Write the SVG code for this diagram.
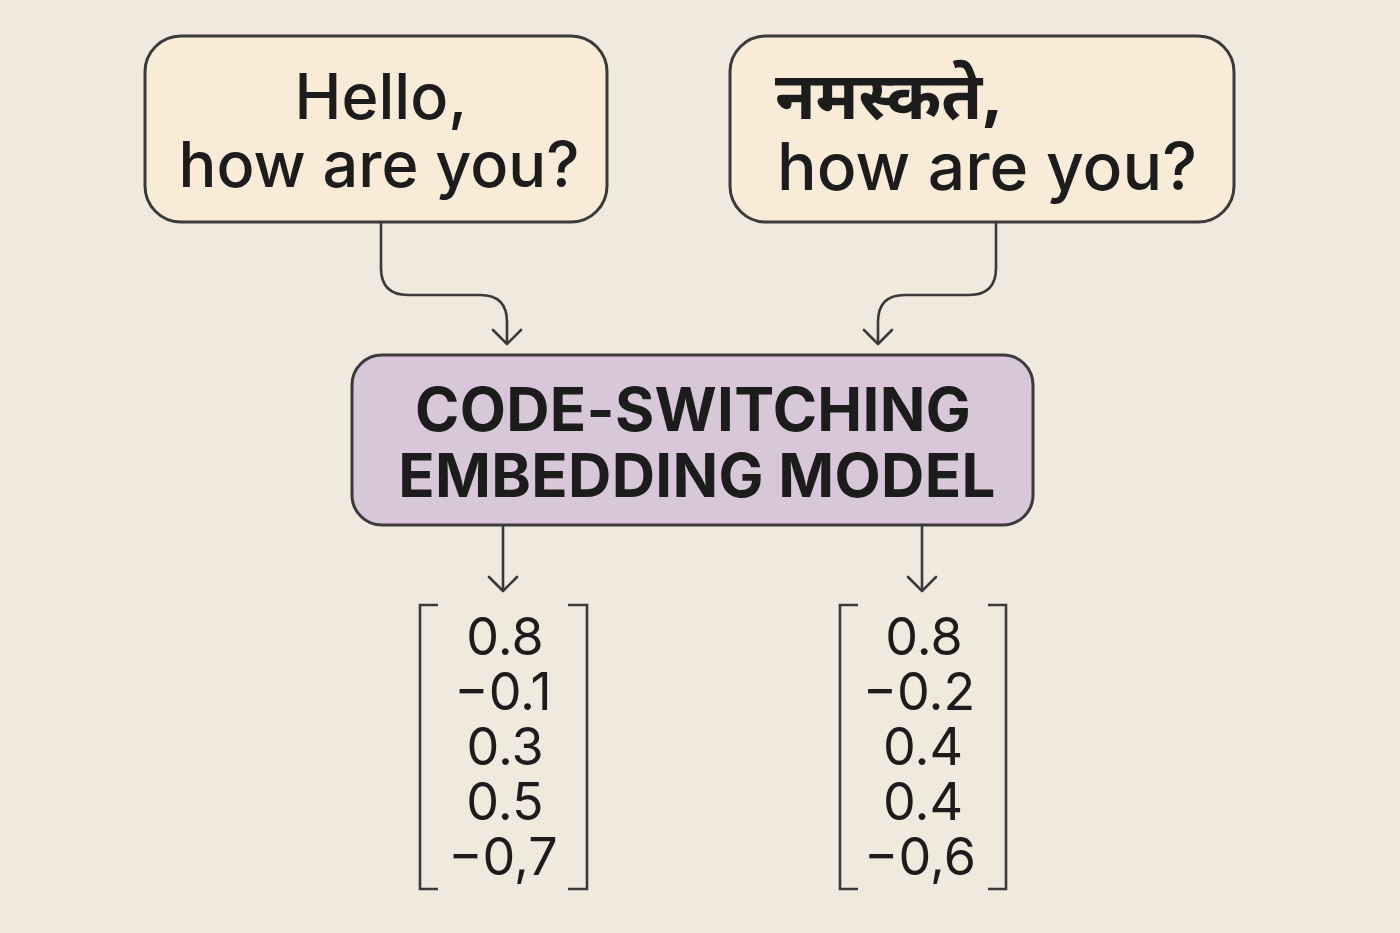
<svg xmlns="http://www.w3.org/2000/svg" width="1400" height="933" viewBox="0 0 1400 933">
  <defs>
    <marker id="arr" viewBox="0 0 20 32" refX="18" refY="16" markerWidth="20" markerHeight="32" markerUnits="userSpaceOnUse" orient="auto">
      <path d="M4,2 L18,16 L4,30" fill="none" stroke="#3a3a3a" stroke-width="2.6" stroke-linecap="round" stroke-linejoin="round"/>
    </marker>
    <style>
      .bg { fill: #f0e9de; }
      .input { fill: #f8ebd8; stroke: #3a3a3a; stroke-width: 3; }
      .model { fill: #d8c7d8; stroke: #3a3a3a; stroke-width: 3; }
      .conn { fill: none; stroke: #3a3a3a; stroke-width: 2.6; }
      .brk { fill: none; stroke: #3a3a3a; stroke-width: 2.6; }
      .t { font-family: Inter, "Liberation Sans", sans-serif; fill: #1c1c1c; }
      .big { font-size: 63px; font-weight: 500; }
      .big2 { font-size: 66px; font-weight: 500; }
      .dev { font-family: "Noto Sans Devanagari", "Noto Sans", "Liberation Sans", sans-serif; font-size: 66px; font-weight: 700; fill: #1c1c1c; }
      .title { font-size: 60px; font-weight: 700; letter-spacing: 0.3px; }
      .num { font-size: 52px; font-weight: 400; }
    </style>
  </defs>
  <rect class="bg" x="0" y="0" width="1400" height="933"/>

  <g id="connectors">
    <path class="conn" d="M381,223 L381,268 Q381,295 408,295 L480,295 Q507,295 507,322 L507,344" marker-end="url(#arr)"/>
    <path class="conn" d="M996,223 L996,268 Q996,295 969,295 L905,295 Q878,295 878,322 L878,344" marker-end="url(#arr)"/>
    <path class="conn" d="M503,526 L503,591" marker-end="url(#arr)"/>
    <path class="conn" d="M922,526 L922,591" marker-end="url(#arr)"/>
  </g>

  <g id="input-english">
    <rect class="input" x="145" y="36" width="462" height="186" rx="36"/>
    <text class="t big" x="381" y="119" text-anchor="middle">Hello,</text>
    <text class="t big" x="379" y="187" text-anchor="middle">how are you?</text>
  </g>

  <g id="input-hindi">
    <rect class="input" x="730" y="36" width="504" height="186" rx="36"/>
    <text class="dev" x="775" y="119">नमस्कते,</text>
    <text class="t big2" x="987" y="190" text-anchor="middle">how are you?</text>
  </g>

  <g id="model">
    <rect class="model" x="352" y="355" width="681" height="170" rx="30"/>
    <text class="t title" x="693" y="431" text-anchor="middle">CODE-SWITCHING</text>
    <text class="t title" x="697" y="497" text-anchor="middle">EMBEDDING MODEL</text>
  </g>

  <g id="vector-english">
    <path class="brk" d="M438,605 L420,605 L420,889 L438,889"/>
    <path class="brk" d="M568,605 L587,605 L587,889 L568,889"/>
    <text class="t num" x="505" y="655" text-anchor="middle">0.8</text>
    <text class="t num" x="503" y="710" text-anchor="middle">−0.1</text>
    <text class="t num" x="505" y="765" text-anchor="middle">0.3</text>
    <text class="t num" x="505" y="820" text-anchor="middle">0.5</text>
    <text class="t num" x="503" y="875" text-anchor="middle">−0,7</text>
  </g>

  <g id="vector-hindi">
    <path class="brk" d="M858,605 L840,605 L840,889 L858,889"/>
    <path class="brk" d="M988,605 L1006,605 L1006,889 L988,889"/>
    <text class="t num" x="924" y="655" text-anchor="middle">0.8</text>
    <text class="t num" x="919" y="710" text-anchor="middle">−0.2</text>
    <text class="t num" x="923" y="765" text-anchor="middle">0.4</text>
    <text class="t num" x="923" y="820" text-anchor="middle">0.4</text>
    <text class="t num" x="920" y="875" text-anchor="middle">−0,6</text>
  </g>
</svg>
